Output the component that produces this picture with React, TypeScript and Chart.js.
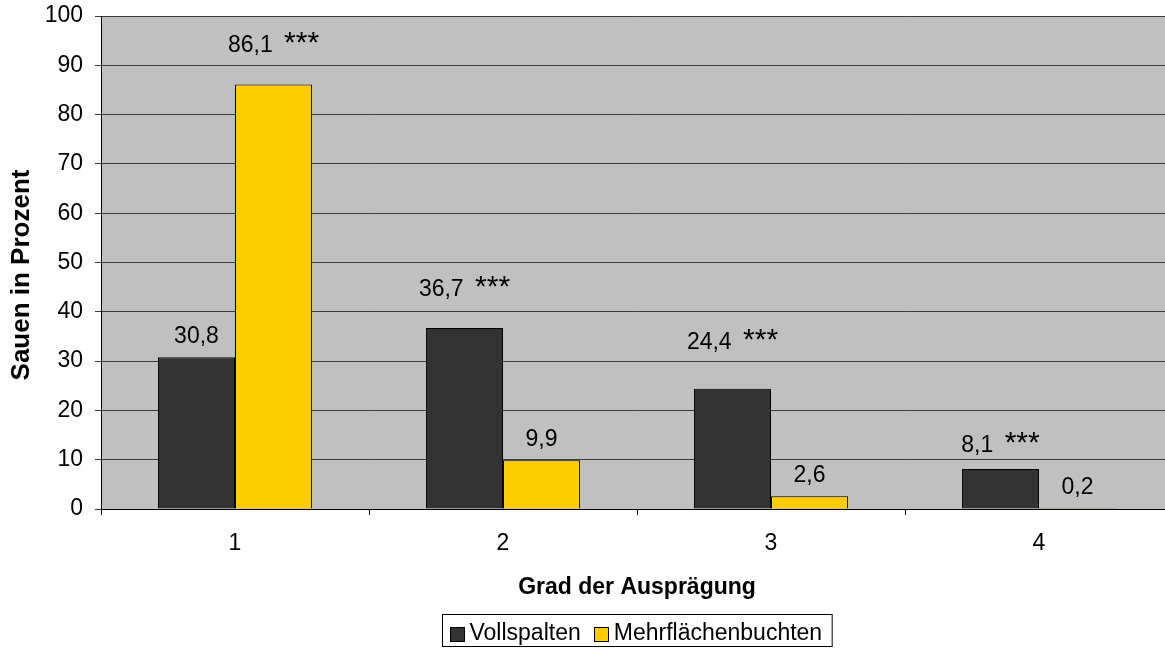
import React, { useEffect, useRef } from "react";
import { Chart, registerables } from "chart.js";

Chart.register(...registerables);

const categories = ["1", "2", "3", "4"];
const vollspalten = [30.8, 36.7, 24.4, 8.1];
const mehrflaechen = [86.1, 9.9, 2.6, 0.2];
const starsVoll = ["", "***", "***", "***"];
const starsMehr = ["***", "", "", ""];
const yTicks = [0, 10, 20, 30, 40, 50, 60, 70, 80, 90, 100];
const seriesNames = ["Vollspalten", "Mehrflächenbuchten"];
const yTitle = "Sauen in Prozent";
const xTitle = "Grad der Ausprägung";

const FONT = '"Liberation Sans", Arial, sans-serif';
const DARK = "#333333";
const YELLOW = "#FFCC00";
const PLOT_BG = "#C0C0C0";

const fmt = (v: number) => v.toFixed(1).replace(".", ",");

const bgPlugin = {
  id: "plotBg",
  beforeDraw(chart: any) {
    const { ctx, chartArea } = chart;
    ctx.save();
    ctx.fillStyle = PLOT_BG;
    ctx.fillRect(chartArea.left, chartArea.top, chartArea.right - chartArea.left, chartArea.bottom - chartArea.top);
    ctx.restore();
  },
};

const labelPlugin = {
  id: "valueLabels",
  afterDatasetsDraw(chart: any, _args: any, opts: any) {
    const ctx = chart.ctx;
    const starSets = [starsVoll, starsMehr];
    ctx.save();
    ctx.fillStyle = "#000";
    ctx.textBaseline = "alphabetic";
    ctx.textAlign = "left";
    chart.data.datasets.forEach((ds: any, di: number) => {
      const meta = chart.getDatasetMeta(di);
      meta.data.forEach((bar: any, i: number) => {
        const text = fmt(ds.data[i]);
        const stars = starSets[di][i];
        const raise = opts.raise[di][i];
        ctx.font = `23px ${FONT}`;
        const w1 = ctx.measureText(text).width;
        const gap = ctx.measureText(" ").width + 5;
        let total = w1;
        let sw = 0;
        if (stars) {
          ctx.font = `30px ${FONT}`;
          sw = ctx.measureText(stars).width;
          total += gap + sw;
        }
        const x0 = bar.x - total / 2;
        const y = bar.y - raise;
        ctx.font = `23px ${FONT}`;
        ctx.fillText(text, x0, y);
        if (stars) {
          ctx.font = `30px ${FONT}`;
          ctx.fillText(stars, x0 + w1 + gap, y);
        }
      });
    });
    ctx.restore();
  },
};

const yTitlePlugin = {
  id: "yTitle",
  afterDraw(chart: any) {
    const { ctx } = chart;
    ctx.save();
    ctx.font = `bold 26px ${FONT}`;
    ctx.fillStyle = "#000";
    ctx.textAlign = "center";
    ctx.textBaseline = "alphabetic";
    ctx.translate(29, 275);
    ctx.rotate(-Math.PI / 2);
    ctx.fillText(yTitle, 0, 0);
    ctx.restore();
  },
};

const legendPlugin = {
  id: "boxLegend",
  afterDraw(chart: any) {
    const { ctx, chartArea } = chart;
    ctx.save();
    ctx.font = `23px ${FONT}`;
    const colors = [DARK, YELLOW];
    const sq = 15;
    const padL = 7;
    const padR = 10;
    const gapSq = 5;
    const gapItem = 13;
    const widths = seriesNames.map((n) => ctx.measureText(n).width);
    const total = padL + padR + widths.reduce((a, w) => a + sq + gapSq + w, 0) + gapItem * (seriesNames.length - 1);
    const cx = (chartArea.left + chartArea.right) / 2;
    const left = Math.round(cx - total / 2) + 0.5;
    const top = 614.5;
    const bottom = 646.5;
    ctx.strokeStyle = "#000";
    ctx.lineWidth = 1;
    ctx.fillStyle = "#fff";
    ctx.fillRect(left, top, total, bottom - top);
    ctx.strokeRect(left, top, total, bottom - top);
    let x = left + padL;
    const baseline = 640;
    seriesNames.forEach((n, i) => {
      ctx.fillStyle = colors[i];
      ctx.fillRect(Math.round(x), 627, sq, sq);
      ctx.strokeRect(Math.round(x) + 0.5, 627.5, sq - 1, sq - 1);
      x += sq + gapSq;
      ctx.fillStyle = "#000";
      ctx.textBaseline = "alphabetic";
      ctx.fillText(n, x, baseline);
      x += widths[i] + gapItem;
    });
    ctx.restore();
  },
};

export default function App() {
  const ref = useRef<HTMLCanvasElement | null>(null);

  useEffect(() => {
    if (!ref.current) return;
    Chart.defaults.font.family = FONT;
    Chart.defaults.color = "#000";
    const chart = new Chart(ref.current, {
      type: "bar",
      data: {
        labels: categories,
        datasets: [
          {
            label: seriesNames[0],
            data: vollspalten,
            backgroundColor: DARK,
            borderColor: "#000",
            borderWidth: 1,
            categoryPercentage: 0.575,
            barPercentage: 1.0,
          },
          {
            label: seriesNames[1],
            data: mehrflaechen,
            backgroundColor: YELLOW,
            borderColor: "#000",
            borderWidth: 1,
            categoryPercentage: 0.575,
            barPercentage: 1.0,
          },
        ],
      },
      options: {
        animation: false,
        responsive: false,
        devicePixelRatio: 1,
        layout: { padding: { top: 16, left: 0, right: 0, bottom: 0 } },
        plugins: {
          legend: { display: false },
          tooltip: { enabled: false },
          valueLabels: {
            raise: [
              [14, 32, 40, 17],
              [33, 14, 14, 14],
            ],
          },
        } as any,
        scales: {
          x: {
            grid: {
              offset: true,
              drawOnChartArea: false,
              drawTicks: true,
              tickLength: 6,
              color: "#000",
            },
            border: { display: true, color: "#000", width: 1 },
            ticks: { font: { size: 23 }, color: "#000", padding: 15 },
            title: {
              display: true,
              text: xTitle,
              font: { size: 23, weight: "bold" },
              color: "#000",
              padding: { top: 0, bottom: 47 },
            },
            afterFit: (scale: any) => {
              scale.height = 139;
              scale.paddingLeft = 0;
              scale.paddingRight = 0;
            },
          },
          y: {
            min: 0,
            max: 100,
            afterBuildTicks: (scale: any) => {
              scale.ticks = yTicks.map((v) => ({ value: v }));
            },
            grid: {
              color: "#3a3a3a",
              lineWidth: 1,
              drawTicks: true,
              tickLength: 6,
            },
            border: { display: true, color: "#000", width: 1 },
            ticks: { font: { size: 23 }, color: "#000", padding: 12 },
            title: { display: false },
            afterFit: (scale: any) => {
              scale.width = 101;
              scale.paddingTop = 0;
              scale.paddingBottom = 0;
            },
          },
        },
      },
      plugins: [bgPlugin, labelPlugin, yTitlePlugin, legendPlugin],
    });
    return () => chart.destroy();
  }, []);

  return (
    <div style={{ position: "fixed", left: 0, top: 0, width: 1165, height: 648, overflow: "hidden", background: "#fff" }}>
      <canvas ref={ref} width={1173} height={648} style={{ width: 1173, height: 648, display: "block" }} />
    </div>
  );
}
